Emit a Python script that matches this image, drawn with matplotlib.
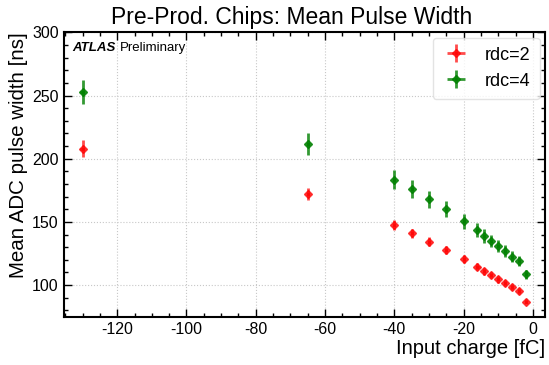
import matplotlib
matplotlib.use("Agg")
import matplotlib.pyplot as plt
from matplotlib.ticker import MultipleLocator, AutoMinorLocator

plt.rcParams['font.family'] = ['Liberation Sans', 'DejaVu Sans']
plt.rcParams['axes.unicode_minus'] = False

# Input charge points [fC]
charge = [-130, -65, -40, -35, -30, -25, -20, -16, -14, -12, -10, -8, -6, -4, -2]

# Mean pulse width [ns] and uncertainties
rdc2_width = [208, 172, 147.5, 141, 134.5, 127.5, 120.5, 114.5, 111, 108, 104.5, 101.5, 98.5, 95.5, 87]
rdc2_err = [6.5, 5, 3.8, 3.5, 3.3, 3.1, 3.0, 2.8, 2.7, 2.6, 2.5, 2.5, 2.4, 2.3, 2.3]
rdc4_width = [253, 212, 183.5, 176, 168, 160, 150.5, 143.5, 139, 135, 131, 127, 122.5, 119, 108.5]
rdc4_err = [9.5, 8.7, 7.5, 7.2, 6.8, 6.4, 6.0, 5.5, 5.3, 5.0, 4.8, 4.6, 4.4, 4.2, 3.8]
charge_err = 0.6

fig = plt.figure(figsize=(5.49, 3.65), dpi=100)
ax = fig.add_axes([0.1157, 0.1323, 0.8770, 0.7792])

ax.errorbar(charge, rdc2_width, yerr=rdc2_err, xerr=charge_err, fmt='D', ms=4.5,
            color='red', alpha=0.7, elinewidth=2, capsize=0, label='rdc=2')
ax.errorbar(charge, rdc4_width, yerr=rdc4_err, xerr=charge_err, fmt='D', ms=4.5,
            color='green', alpha=0.8, elinewidth=2, capsize=0, label='rdc=4')

ax.set_xlim(-135.5, 3.5)
ax.set_ylim(75, 300)
ax.xaxis.set_major_locator(MultipleLocator(20))
ax.xaxis.set_minor_locator(AutoMinorLocator(4))
ax.yaxis.set_major_locator(MultipleLocator(50))
ax.yaxis.set_minor_locator(AutoMinorLocator(5))
ax.tick_params(which='both', direction='in', top=True, right=True, labelsize=11.5)
ax.tick_params(which='major', length=6, width=1)
ax.tick_params(which='minor', length=3, width=1)
for s in ax.spines.values():
    s.set_linewidth(1.5)
ax.grid(True, which='major', linestyle=':', color='#c8c8c8', linewidth=0.8)

ax.set_xlabel('Input charge [fC]', fontsize=14.5, loc='right', labelpad=2)
ax.set_ylabel('Mean ADC pulse width [ns]', fontsize=14.8, loc='top', labelpad=3)
fig.text(0.531, 0.935, 'Pre-Prod. Chips: Mean Pulse Width', fontsize=16.5,
         ha='center', va='baseline')

ax.text(0.018, 0.965, 'ATLAS', transform=ax.transAxes, fontsize=9.5,
        fontweight='bold', fontstyle='italic', va='top', ha='left')
ax.text(0.118, 0.965, 'Preliminary', transform=ax.transAxes, fontsize=9.5,
        va='top', ha='left')

ax.legend(loc='upper right', fontsize=13, frameon=True, framealpha=0.8,
          edgecolor='#dddddd', handlelength=1.6, borderpad=0.5,
          borderaxespad=0.3)

fig.savefig('out.png', dpi=100)
